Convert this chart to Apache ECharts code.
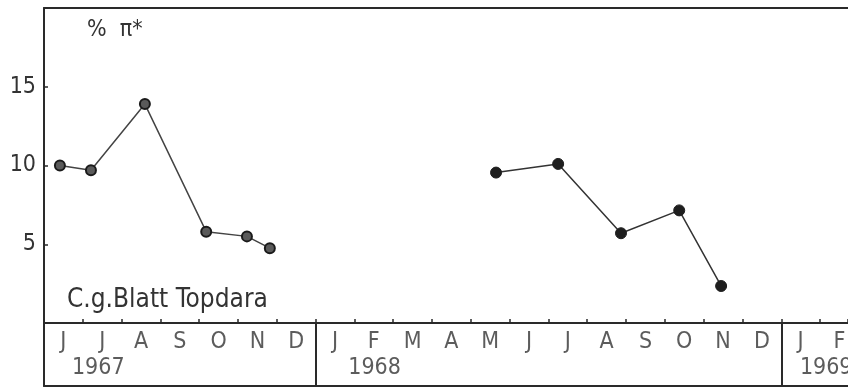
<!DOCTYPE html>
<html><head><meta charset="utf-8">
<script src="https://cdn.jsdelivr.net/npm/echarts@6/dist/echarts.min.js"></script>
<style>html,body{margin:0;padding:0;background:#fff}#c{width:848px;height:387px}</style>
</head><body><div id="c"></div>
<script>
// Month index: Jan 1967 = 0
const monthLetters = ['J','J','A','S','O','N','D','J','F','M','A','M','J','J','A','S','O','N','D','J','F'];
const firstMonth = 5; // June 1967
const lastVisible = 25.72; // picture cuts the frame in Feb 1969
const years = ['1967', '1968', '1969'];
const yearLabelX = [5.72, 12.84, 24.48];
const yearBreaks = [12, 24];
const x1967 = [5.41, 6.21, 7.60, 9.18, 10.23, 10.82];
const y1967 = [10.0, 9.7, 13.9, 5.8, 5.5, 4.75];
const x1968 = [16.65, 18.25, 19.87, 21.37, 22.45];
const y1968 = [9.55, 10.1, 5.7, 7.15, 2.35];
const yLabelValues = [5, 10, 15];

const FONT = "'Liberation Sans Narrow', 'DejaVu Sans Condensed', 'DejaVu Sans', sans-serif";
const INK = '#2a2a2a';
const TXT = '#333';

const border = {show: true, onZero: false, lineStyle: {color: INK, width: 2}};

const chart = echarts.init(document.getElementById('c'), null, {renderer: 'canvas'});
chart.setOption({
  animation: false,
  backgroundColor: '#fff',
  title: [
    {text: '%  π*', left: 82, top: 14, textStyle: {fontFamily: FONT, fontSize: 23, fontWeight: 'normal', color: TXT}},
    {text: 'C.g.Blatt Topdara', left: 62, top: 282, textStyle: {fontFamily: FONT, fontSize: 26, fontWeight: 'normal', color: TXT}}
  ],
  grid: [
    {left: 44, top: 8, right: 0, height: 315},
    {left: 44, top: 323, right: 0, height: 63}
  ],
  xAxis: [
    {gridIndex: 0, type: 'value', min: firstMonth, max: lastVisible, interval: 1,
     axisLine: border,
     axisTick: {show: true, inside: true, length: 4, lineStyle: {color: INK, width: 1.5}},
     axisLabel: {show: false}, splitLine: {show: false}},
    {gridIndex: 1, type: 'value', min: firstMonth, max: lastVisible,
     axisLine: border, axisTick: {show: false}, axisLabel: {show: false}, splitLine: {show: false}},
    {gridIndex: 0, type: 'value', position: 'top', min: firstMonth, max: lastVisible,
     axisLine: border, axisTick: {show: false}, axisLabel: {show: false}, splitLine: {show: false}}
  ],
  yAxis: [
    {gridIndex: 0, type: 'value', min: 0, max: 20, interval: 5,
     axisLine: border,
     axisTick: {show: true, inside: true, length: 4, lineStyle: {color: INK, width: 1.5}},
     axisLabel: {fontFamily: FONT, fontSize: 23, color: TXT, margin: 8,
       formatter: v => yLabelValues.indexOf(v) >= 0 ? String(v) : ''},
     splitLine: {show: false}},
    {gridIndex: 1, type: 'value', min: 0, max: 1,
     axisLine: border, axisTick: {show: false}, axisLabel: {show: false}, splitLine: {show: false}}
  ],
  series: [
    {type: 'line', xAxisIndex: 0, yAxisIndex: 0,
     data: x1967.map((x, i) => [x, y1967[i]]),
     symbol: 'circle', symbolSize: 10,
     lineStyle: {color: '#444', width: 1.5},
     itemStyle: {color: '#5a5a5a', borderColor: '#1a1a1a', borderWidth: 2}},
    {type: 'line', xAxisIndex: 0, yAxisIndex: 0,
     data: x1968.map((x, i) => [x, y1968[i]]),
     symbol: 'circle', symbolSize: 11,
     lineStyle: {color: '#333', width: 1.5},
     itemStyle: {color: '#1e1e1e', borderColor: '#1e1e1e', borderWidth: 1}},
    {type: 'scatter', xAxisIndex: 1, yAxisIndex: 1, symbolSize: 0, silent: true, clip: false,
     data: monthLetters.map((m, i) => ({name: m, value: [firstMonth + i + 0.5, 0.7]})),
     label: {show: true, position: 'inside', formatter: '{b}', fontFamily: FONT, fontSize: 23, color: TXT},
     markLine: {silent: true, symbol: 'none', label: {show: false},
       lineStyle: {color: INK, width: 2, type: 'solid'},
       data: yearBreaks.map(b => ({xAxis: b}))}},
    {type: 'scatter', xAxisIndex: 1, yAxisIndex: 1, symbolSize: 0, silent: true, clip: false,
     data: years.map((y, i) => ({name: y, value: [yearLabelX[i], 0.28]})),
     label: {show: true, position: 'right', distance: 0, formatter: '{b}', fontFamily: FONT, fontSize: 23, color: TXT}}
  ]
});
</script>
</body></html>
